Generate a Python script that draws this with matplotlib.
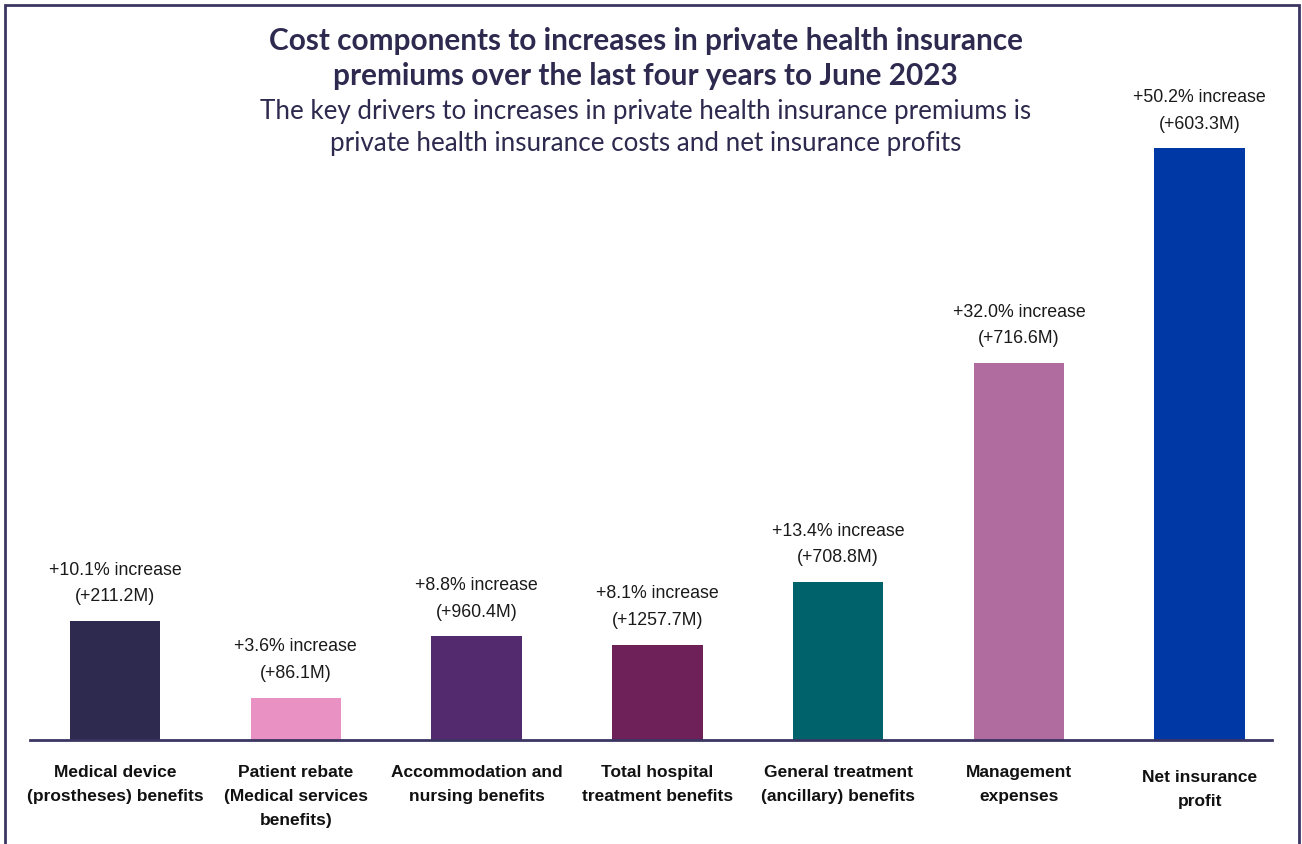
import matplotlib.pyplot as plt
from matplotlib.patches import Rectangle

categories = [
    'Medical device\n(prostheses) benefits',
    'Patient rebate\n(Medical services\nbenefits)',
    'Accommodation and\nnursing benefits',
    'Total hospital\ntreatment benefits',
    'General treatment\n(ancillary) benefits',
    'Management\nexpenses',
    'Net insurance\nprofit',
]
pct_increase = [10.1, 3.6, 8.8, 8.1, 13.4, 32.0, 50.2]
dollar_increase = ['+211.2M', '+86.1M', '+960.4M', '+1257.7M', '+708.8M', '+716.6M', '+603.3M']
colors = ['#2E2A4F', '#E991C3', '#532A6E', '#6E2159', '#00636B', '#B06C9E', '#0038A6']

NAVY = '#2E2A4F'

fig = plt.figure(figsize=(13.02, 8.45), dpi=100)
ax = fig.add_axes([30 / 1302, 104 / 845, 1242 / 1302, 707 / 845])

x = list(range(len(categories)))
bars = ax.bar(x, pct_increase, width=0.5, color=colors)

for xi, p, d in zip(x, pct_increase, dollar_increase):
    ax.annotate(f'+{p:.1f}% increase\n({d})', (xi, p), xytext=(0, 12),
                textcoords='offset points', ha='center', va='bottom',
                fontsize=12.8, family='Liberation Sans', color='#1a1a1a',
                linespacing=1.75)

ax.set_xlim(-0.47, 6.40)
ax.set_ylim(0, 60)
ax.set_xticks(x)
ax.set_xticklabels(categories, fontsize=12.5, fontweight='bold',
                   family='Liberation Sans', color='#111111', linespacing=1.75)
ax.tick_params(axis='x', length=0, pad=17)
ax.set_yticks([])
for s in ['top', 'right', 'left']:
    ax.spines[s].set_visible(False)
ax.spines['bottom'].set_color('#3B3562')
ax.spines['bottom'].set_linewidth(2)
# last label sits a bit lower in the original
ax.get_xticklabels()[-1].set_y(-0.008)

fig.text(0.496, 1 - 41 / 845, 'Cost components to increases in private health insurance',
         ha='center', va='center', fontsize=21.4, fontweight='bold', family='Lato', color=NAVY)
fig.text(0.496, 1 - 76 / 845, 'premiums over the last four years to June 2023',
         ha='center', va='center', fontsize=21.4, fontweight='bold', family='Lato', color=NAVY)
fig.text(0.496, 1 - 112 / 845, 'The key drivers to increases in private health insurance premiums is',
         ha='center', va='center', fontsize=18.7, family='Lato', color=NAVY)
fig.text(0.496, 1 - 144 / 845, 'private health insurance costs and net insurance profits',
         ha='center', va='center', fontsize=18.7, family='Lato', color=NAVY)

fig.patches.append(Rectangle((5 / 1302, -0.02), 1294 / 1302, 1.02 - 6 / 845,
                             transform=fig.transFigure, fill=False,
                             edgecolor='#3B3562', linewidth=2))

fig.savefig('out.png', dpi=100)
